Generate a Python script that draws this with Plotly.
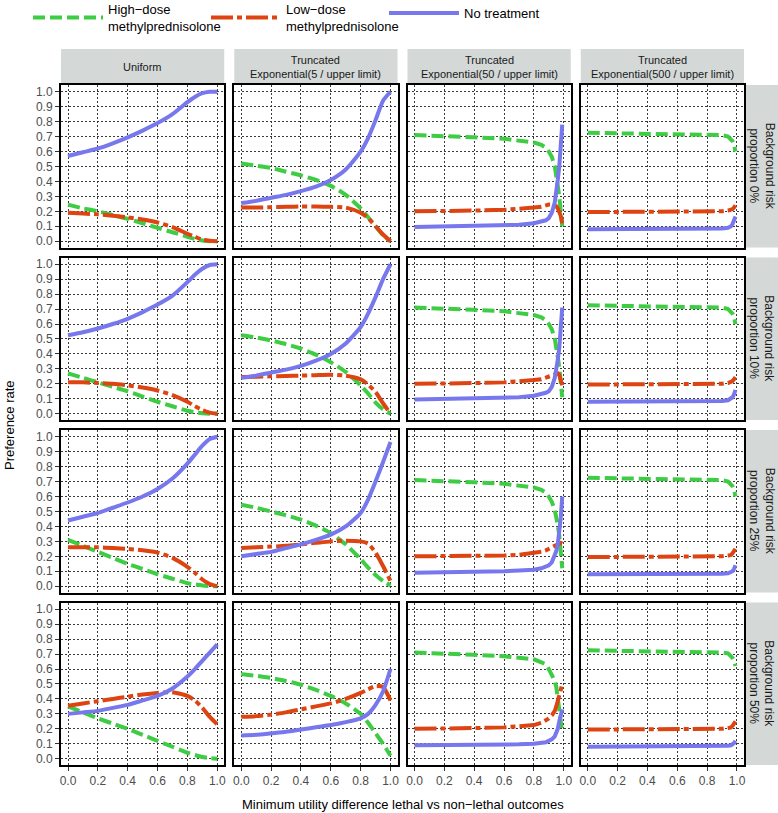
import plotly.graph_objects as go
from plotly.subplots import make_subplots

# ---------------- data ----------------
SERIES = ["High−dose<br>methylprednisolone", "Low−dose<br>methylprednisolone", "No treatment"]
COLUMNS = ["Uniform", "Truncated<br>Exponential(5 / upper limit)",
           "Truncated<br>Exponential(50 / upper limit)", "Truncated<br>Exponential(500 / upper limit)"]
ROWS = ["Background risk<br>proportion 0%", "Background risk<br>proportion 10%",
        "Background risk<br>proportion 25%", "Background risk<br>proportion 50%"]
Y_TICKS = [0.0, 0.1, 0.2, 0.3, 0.4, 0.5, 0.6, 0.7, 0.8, 0.9, 1.0]
X_TICKS = [0.0, 0.2, 0.4, 0.6, 0.8, 1.0]

X_UNI = [0.0, 0.1, 0.2, 0.3, 0.4, 0.5, 0.6, 0.7, 0.8, 0.85, 0.9, 0.95, 1.0]
X_EXP5 = [0.0, 0.1, 0.2, 0.3, 0.4, 0.5, 0.6, 0.7, 0.8, 0.85, 0.9, 0.95, 1.0]
X_EXP50 = [0.0, 0.2, 0.4, 0.6, 0.7, 0.8, 0.85, 0.88, 0.9, 0.92, 0.94, 0.95, 0.96, 0.97, 0.98, 0.99]
X_EXP500 = [0.0, 0.2, 0.4, 0.6, 0.8, 0.9, 0.94, 0.96, 0.97, 0.98, 0.99]

# Uniform
uni_0_high = [.245, .22, .20, .175, .15, .12, .09, .06, .03, .015, .005, 0, 0]
uni_0_low = [.19, .185, .18, .17, .16, .145, .125, .095, .05, .03, .01, .003, 0]
uni_0_none = [.57, .595, .62, .655, .695, .74, .79, .85, .93, .965, .99, 1.0, 1.0]
uni_10_high = [.27, .24, .21, .18, .15, .115, .08, .05, .02, .01, .003, 0, 0]
uni_10_low = [.21, .21, .205, .20, .19, .175, .155, .125, .08, .05, .025, .007, 0]
uni_10_none = [.525, .545, .57, .60, .635, .68, .73, .79, .88, .93, .97, .995, 1.0]
uni_25_high = [.31, .27, .23, .19, .15, .115, .08, .05, .02, .012, .005, .001, 0]
uni_25_low = [.26, .26, .26, .255, .25, .24, .225, .19, .13, .09, .045, .015, 0]
uni_25_none = [.44, .465, .49, .525, .56, .60, .65, .72, .82, .88, .94, .985, 1.0]
uni_50_high = [.35, .31, .27, .235, .20, .16, .12, .08, .04, .025, .012, .004, 0]
uni_50_low = [.355, .37, .385, .40, .415, .43, .44, .445, .42, .39, .34, .28, .23]
uni_50_none = [.30, .31, .32, .34, .36, .39, .42, .47, .55, .60, .655, .71, .765]

# Truncated exponential 5
e5_0_high = [.52, .505, .49, .465, .44, .41, .37, .31, .22, .16, .10, .04, 0]
e5_0_low = [.225, .225, .228, .23, .232, .232, .23, .225, .19, .155, .10, .045, 0]
e5_0_none = [.255, .27, .29, .31, .335, .365, .41, .48, .60, .69, .81, .94, 1.0]
e5_10_high = [.525, .51, .49, .465, .435, .395, .345, .28, .19, .135, .075, .03, 0]
e5_10_low = [.245, .248, .25, .252, .255, .258, .26, .255, .23, .195, .145, .07, 0]
e5_10_none = [.24, .255, .275, .295, .32, .355, .40, .47, .58, .67, .78, .90, 1.0]
e5_25_high = [.545, .525, .50, .475, .445, .405, .355, .28, .18, .125, .075, .035, .005]
e5_25_low = [.255, .26, .265, .27, .28, .29, .30, .305, .30, .285, .225, .135, .035]
e5_25_none = [.20, .215, .23, .255, .28, .31, .345, .40, .49, .58, .70, .83, .965]
e5_50_high = [.565, .555, .54, .52, .495, .46, .42, .37, .30, .24, .17, .10, .02]
e5_50_low = [.28, .285, .295, .31, .33, .35, .37, .40, .44, .465, .485, .48, .39]
e5_50_none = [.155, .16, .17, .18, .195, .21, .225, .245, .27, .30, .36, .45, .60]

# Truncated exponential 50
e50_0_high = [.71, .705, .695, .685, .675, .66, .645, .625, .60, .565, .50, .45, .37, .30, .20, .10]
e50_0_low = [.20, .20, .205, .21, .215, .225, .23, .24, .245, .245, .24, .235, .22, .20, .17, .12]
e50_0_none = [.095, .098, .10, .105, .11, .12, .13, .14, .155, .19, .26, .32, .41, .50, .63, .78]
e50_10_high = [.71, .705, .695, .685, .675, .66, .645, .625, .60, .565, .50, .45, .38, .31, .21, .11]
e50_10_low = [.20, .20, .205, .21, .215, .225, .23, .24, .25, .255, .26, .265, .27, .26, .23, .19]
e50_10_none = [.095, .098, .10, .105, .11, .12, .13, .14, .15, .18, .24, .29, .36, .44, .56, .71]
e50_25_high = [.71, .705, .695, .685, .675, .66, .645, .625, .60, .565, .51, .47, .41, .34, .24, .12]
e50_25_low = [.20, .20, .20, .205, .21, .22, .23, .24, .25, .26, .27, .275, .28, .285, .29, .285]
e50_25_none = [.09, .092, .095, .10, .105, .11, .12, .13, .14, .16, .20, .235, .28, .35, .46, .60]
e50_50_high = [.71, .705, .695, .685, .675, .665, .645, .63, .60, .565, .52, .48, .42, .33, .25, .17]
e50_50_low = [.20, .20, .205, .21, .215, .225, .24, .255, .27, .29, .32, .35, .38, .42, .46, .50]
e50_50_none = [.09, .09, .092, .094, .096, .10, .105, .11, .12, .13, .15, .17, .20, .25, .29, .33]

# Truncated exponential 500
e500_0_high = [.725, .722, .72, .718, .715, .71, .70, .685, .67, .645, .60]
e500_0_low = [.195, .195, .195, .196, .198, .20, .205, .21, .215, .225, .24]
e500_0_none = [.08, .08, .08, .08, .082, .085, .09, .10, .115, .135, .165]
e500_10_high = [.725, .722, .72, .718, .715, .71, .70, .685, .67, .645, .60]
e500_10_low = [.195, .195, .195, .196, .198, .20, .205, .21, .218, .23, .245]
e500_10_none = [.08, .08, .08, .08, .082, .085, .09, .10, .11, .13, .16]
e500_25_high = [.725, .722, .72, .718, .715, .71, .70, .685, .67, .645, .60]
e500_25_low = [.195, .195, .195, .196, .198, .20, .205, .21, .22, .235, .25]
e500_25_none = [.08, .08, .08, .08, .081, .083, .087, .094, .10, .115, .14]
e500_50_high = [.725, .722, .72, .718, .715, .71, .705, .69, .675, .655, .62]
e500_50_low = [.195, .195, .195, .196, .198, .20, .205, .21, .22, .235, .25]
e500_50_none = [.08, .08, .08, .08, .081, .083, .086, .09, .095, .105, .12]

# ---------------- assembly ----------------
COL_X = [X_UNI, X_EXP5, X_EXP50, X_EXP500]
PANELS = [
    [(uni_0_high, uni_0_low, uni_0_none), (e5_0_high, e5_0_low, e5_0_none),
     (e50_0_high, e50_0_low, e50_0_none), (e500_0_high, e500_0_low, e500_0_none)],
    [(uni_10_high, uni_10_low, uni_10_none), (e5_10_high, e5_10_low, e5_10_none),
     (e50_10_high, e50_10_low, e50_10_none), (e500_10_high, e500_10_low, e500_10_none)],
    [(uni_25_high, uni_25_low, uni_25_none), (e5_25_high, e5_25_low, e5_25_none),
     (e50_25_high, e50_25_low, e50_25_none), (e500_25_high, e500_25_low, e500_25_none)],
    [(uni_50_high, uni_50_low, uni_50_none), (e5_50_high, e5_50_low, e5_50_none),
     (e50_50_high, e50_50_low, e50_50_none), (e500_50_high, e500_50_low, e500_50_none)],
]

COLORS = ["#3FCC45", "#DD4411", "#7777EE"]
DASHES = ["12px,5px", "22px,4px,5px,4px", "solid"]
LEGENDS = ["legend", "legend2", "legend3"]

W, H = 778, 813
ML, MR, MT, MB = 61, 34, 85, 48
PW, PH = W - ML - MR, H - MT - MB

fig = make_subplots(rows=4, cols=4, horizontal_spacing=10 / PW, vertical_spacing=10 / PH)

FONT = "Liberation Sans, Arial, Helvetica, sans-serif"

for r in range(4):
    for c in range(4):
        xs = COL_X[c]
        for s in range(3):
            fig.add_trace(go.Scatter(
                x=xs, y=PANELS[r][c][s], mode="lines", name=SERIES[s],
                legendgroup=SERIES[s], showlegend=(r == 0 and c == 0), legend=LEGENDS[s],
                line=dict(color=COLORS[s], width=4, dash=DASHES[s],
                          shape="spline" if c < 2 else "linear", smoothing=0.6),
                hoverinfo="skip"), row=r + 1, col=c + 1)

axis_common = dict(showgrid=True, gridcolor="#3a3a3a", gridwidth=1, griddash="2px,2px",
                   zeroline=False, showline=True, linecolor="black", linewidth=2, mirror=True,
                   tickcolor="#333333", ticklen=4, tickwidth=1,
                   tickfont=dict(family=FONT, size=12, color="#4D4D4D"))

for r in range(4):
    for c in range(4):
        fig.update_xaxes(axis_common, range=[-0.047, 1.047], tickvals=X_TICKS,
                         ticktext=[f"{v:.1f}" for v in X_TICKS],
                         ticks="outside" if r == 3 else "", showticklabels=(r == 3),
                         row=r + 1, col=c + 1)
        fig.update_yaxes(axis_common, range=[-0.042, 1.045], tickvals=Y_TICKS,
                         ticktext=[f"{v:.1f}" for v in Y_TICKS],
                         ticks="outside" if c == 0 else "", showticklabels=(c == 0),
                         row=r + 1, col=c + 1)

STRIP = "#D4D8D7"
shapes = []
annotations = []
for c in range(4):
    xref = "x domain" if c == 0 else f"x{c + 1} domain"
    shapes.append(dict(type="rect", xref=xref, yref="paper", x0=0, x1=1,
                       y0=1.0, y1=1 + 36 / PH, fillcolor=STRIP, line=dict(width=0), layer="below"))
    annotations.append(dict(xref=xref, yref="paper", x=0.5, y=1 + 18 / PH, text=COLUMNS[c],
                            showarrow=False, xanchor="center", yanchor="middle",
                            font=dict(family=FONT, size=11, color="#1A1A1A")))
for r in range(4):
    yidx = r * 4 + 1
    yref = "y domain" if yidx == 1 else f"y{yidx} domain"
    shapes.append(dict(type="rect", xref="paper", yref=yref, x0=1 + 1 / PW, x1=1 + 34 / PW,
                       y0=0, y1=1, fillcolor=STRIP, line=dict(width=0), layer="below"))
    annotations.append(dict(xref="paper", yref=yref, x=1 + 17.5 / PW, y=0.5, text=ROWS[r],
                            showarrow=False, textangle=90, xanchor="center", yanchor="middle",
                            font=dict(family=FONT, size=12, color="#1A1A1A")))

annotations.append(dict(xref="paper", yref="paper", x=0.5, y=-39 / PH,
                        text="Minimum utility difference lethal vs non−lethal outcomes",
                        showarrow=False, xanchor="center", yanchor="middle",
                        font=dict(family=FONT, size=13, color="black")))
annotations.append(dict(xref="paper", yref="paper", x=-52 / PW, y=0.5, text="Preference rate",
                        showarrow=False, textangle=-90, xanchor="center", yanchor="middle",
                        font=dict(family=FONT, size=13, color="black")))


def legend_box(px_left, px_top):
    return dict(orientation="h", xref="paper", yref="paper",
                x=(px_left - ML) / PW, y=1 + (MT - px_top) / PH, xanchor="left", yanchor="top",
                font=dict(family=FONT, size=13, color="black"),
                itemwidth=70, valign="middle", bgcolor="rgba(0,0,0,0)")


fig.update_layout(
    width=W, height=H, margin=dict(l=ML, r=MR, t=MT, b=MB, autoexpand=False),
    paper_bgcolor="white", plot_bgcolor="white",
    shapes=shapes, annotations=annotations,
    legend=legend_box(28, -6),
    legend2=legend_box(206, -6),
    legend3=legend_box(384, -2),
)

fig.write_html("out.html", config={"displayModeBar": False},
               post_script="document.body.style.margin='0px';document.body.style.padding='0px';")
